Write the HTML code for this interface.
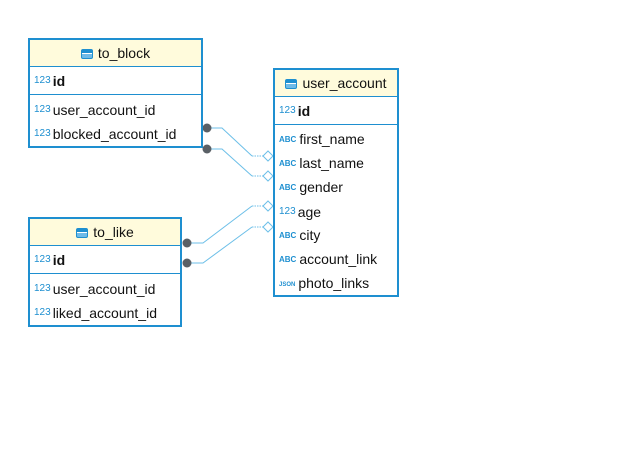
<!DOCTYPE html>
<html><head><meta charset="utf-8"><style>
body{margin:0;width:635px;height:467px;background:#fff;position:relative;overflow:hidden;font-family:"Liberation Sans","DejaVu Sans",sans-serif;font-size:14px;color:#111}
.t{position:absolute;border:2px solid #1e8fd0;background:#fff;box-sizing:border-box}
.h{background:#fffbdc;border-bottom:1px solid #1e8fd0;height:26px;line-height:26px;text-align:center;font-size:14px}
.h i{display:inline-block;width:12px;height:10px;border:1px solid #1e8fd0;background:linear-gradient(#1e8fd0 0 3px,#fff 3px 4px,#6fbbe8 4px);vertical-align:-1px;margin-right:5px;border-radius:2px;box-sizing:border-box;position:relative}
.idr{height:27px;line-height:27px;border-bottom:1px solid #1e8fd0;padding-left:4px;font-weight:bold;font-size:14px}
.r{height:24px;line-height:25px;padding-left:4px}
.n{color:#1e8fd0;font-size:10px;vertical-align:3px;margin-right:2px;font-weight:normal}
.a{color:#1e8fd0;font-size:8px;font-weight:bold;margin-right:3px;vertical-align:2px}
.rows{padding-top:2px}
</style></head><body>
<svg width="635" height="467" style="position:absolute;left:0;top:0">
<g fill="none" stroke="#6cbfe8" stroke-width="1">
<path d="M207 128 H222 L252 156"/><path d="M252 156 H263" stroke-dasharray="1.5 1"/>
<path d="M207 149 H222 L252 176"/><path d="M252 176 H263" stroke-dasharray="1.5 1"/>
<path d="M187 243 H203 L252 206"/><path d="M252 206 H263" stroke-dasharray="1.5 1"/>
<path d="M187 263 H203 L252 227"/><path d="M252 227 H263" stroke-dasharray="1.5 1"/>
<path d="M263 156 l5 -5 l5 5 l-5 5z" fill="#fff"/>
<path d="M263 176 l5 -5 l5 5 l-5 5z" fill="#fff"/>
<path d="M263 206 l5 -5 l5 5 l-5 5z" fill="#fff"/>
<path d="M263 227 l5 -5 l5 5 l-5 5z" fill="#fff"/>
</g>
<g fill="#5a6066"><circle cx="207" cy="128" r="4.5"/><circle cx="207" cy="149" r="4.5"/><circle cx="187" cy="243" r="4.5"/><circle cx="187" cy="263" r="4.5"/></g>
</svg>
<div class="t" style="left:28px;top:38px;width:175px;height:110px">
<div class="h"><i></i>to_block</div>
<div class="idr"><span class="n">123</span>id</div>
<div class="rows"><div class="r"><span class="n">123</span>user_account_id</div><div class="r"><span class="n">123</span>blocked_account_id</div></div>
</div>
<div class="t" style="left:28px;top:217px;width:154px;height:110px">
<div class="h"><i></i>to_like</div>
<div class="idr"><span class="n">123</span>id</div>
<div class="rows"><div class="r"><span class="n">123</span>user_account_id</div><div class="r"><span class="n">123</span>liked_account_id</div></div>
</div>
<div class="t" style="left:273px;top:68px;width:126px;height:229px">
<div class="h"><i></i>user_account</div>
<div class="idr"><span class="n">123</span>id</div>
<div class="rows">
<div class="r"><span class="a">ABC</span>first_name</div>
<div class="r"><span class="a">ABC</span>last_name</div>
<div class="r"><span class="a">ABC</span>gender</div>
<div class="r"><span class="n">123</span>age</div>
<div class="r"><span class="a">ABC</span>city</div>
<div class="r"><span class="a">ABC</span>account_link</div>
<div class="r"><span class="a" style="font-size:6px">JSON</span>photo_links</div>
</div></div>
</body></html>
